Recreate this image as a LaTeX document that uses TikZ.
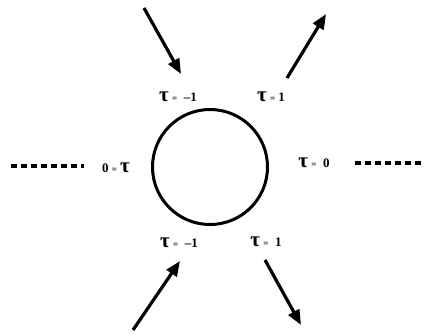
\documentclass[tikz,border=0pt]{standalone}
\usepackage{fontspec}
\setmainfont{Liberation Serif}
\usetikzlibrary{arrows.meta}
\newcommand{\bigtau}{{\fontsize{21}{21}\selectfont τ}}

\begin{document}
\begin{tikzpicture}[x=1pt,y=-1pt,
  lab/.style={inner sep=0pt,font=\fontsize{13}{13}\selectfont\bfseries},
  arr/.style={line width=3.2pt,-{Triangle[length=15pt,width=12pt]}},
  dots/.style={line width=4pt,dash pattern=on 5.5pt off 4.5pt}]
\useasboundingbox (0,0) rectangle (425,333);
% ---- ring ----
\node[circle,draw,line width=3pt,minimum size=115pt,inner sep=0pt] (ring) at (210,167) {};
% ---- labels round the ring ----
\node[lab] (tl) at (178,97) {\bigtau\ {\small=}\ \ –1};
\node[lab] (tr) at (271,97) {\bigtau\ {\small=} 1};
\node[lab] (ml) at (116,168) {0 {\small=} \bigtau};
\node[lab] (mr) at (314,163) {\bigtau\ {\small=}\ \ 0};
\node[lab] (bl) at (179,243) {\bigtau\ {\small=}\ \ –1};
\node[lab] (br) at (266,242) {\bigtau\ {\small=}\ \ 1};
% ---- arrows ----
\coordinate (tlS) at (144,8);   \coordinate (tlE) at (181,74);
\coordinate (trS) at (287,78);  \coordinate (trE) at (326,14);
\coordinate (blS) at (133,330); \coordinate (blE) at (180,261);
\coordinate (brS) at (265,260); \coordinate (brE) at (301,325);
\draw[arr] (tlS) -- (tlE);
\draw[arr] (trS) -- (trE);
\draw[arr] (blS) -- (blE);
\draw[arr] (brS) -- (brE);
% ---- dotted ends ----
\coordinate (lS) at (11,166);  \coordinate (lE) at (84,166);
\coordinate (rS) at (355,163); \coordinate (rE) at (421,163);
\draw[dots] (lS) -- (lE);
\draw[dots] (rS) -- (rE);
\end{tikzpicture}
\end{document}
